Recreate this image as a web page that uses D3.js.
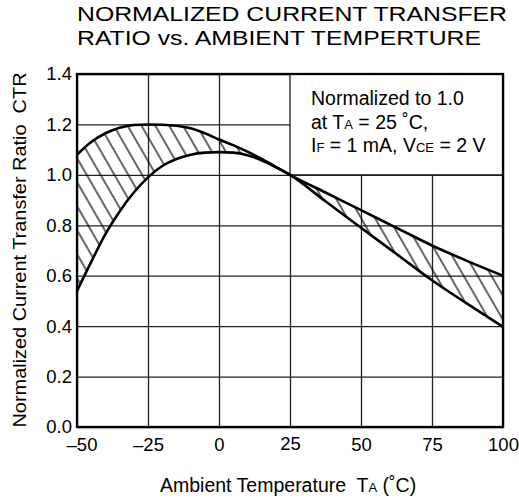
<!DOCTYPE html>
<html>
<head>
<meta charset="utf-8">
<script src="https://cdn.jsdelivr.net/npm/d3@7"></script>
<style>
  body { margin: 0; background: #fff; }
  text { font-family: "Liberation Sans", Arial, sans-serif; fill: #000; white-space: pre; }
</style>
</head>
<body>
<svg id="chart" width="519" height="499"></svg>
<script>
// temperature (deg C) and normalized CTR band (upper / lower limits)
const temps = [-50, -45, -40, -35, -30, -25, -20, -15, -10, -5, 0, 5, 10, 15, 20, 25, 37.5, 50, 62.5, 75, 87.5, 100];
const upperCTR = [1.08, 1.13, 1.165, 1.187, 1.198, 1.2, 1.199, 1.195, 1.185, 1.165, 1.14, 1.118, 1.092, 1.063, 1.032, 1.0, 0.93, 0.86, 0.79, 0.72, 0.658, 0.60];
const lowerCTR = [0.54, 0.655, 0.765, 0.855, 0.93, 0.99, 1.035, 1.063, 1.08, 1.088, 1.09, 1.088, 1.078, 1.058, 1.03, 1.0, 0.895, 0.79, 0.686, 0.582, 0.488, 0.397];

const xTicks = [-50, -25, 0, 25, 50, 75, 100];
const yTicks = [0, 0.2, 0.4, 0.6, 0.8, 1.0, 1.2, 1.4];

const titleLines = ["NORMALIZED CURRENT TRANSFER", "RATIO vs. AMBIENT TEMPERTURE"];
const noteLines = [
  [["Normalized to 1.0", false]],
  [["at T", false], ["A", true], [" = 25 ˚C,", false]],
  [["I", false], ["F", true], [" = 1 mA, V", false], ["CE", true], [" = 2 V", false]]
];

const svg = d3.select("#chart");
const margin = { top: 74, right: 16, bottom: 72, left: 77 };
const width = 519 - margin.left - margin.right;
const height = 499 - margin.top - margin.bottom;

const x = d3.scaleLinear().domain([-50, 100]).range([0, width]);
const y = d3.scaleLinear().domain([0, 1.4]).range([height, 0]);

const chart = svg.append("g")
    .attr("transform", `translate(${margin.left},${margin.top})`);

// hatch pattern
svg.append("defs").append("pattern")
    .attr("id", "hatch")
    .attr("patternUnits", "userSpaceOnUse")
    .attr("width", 12)
    .attr("height", 12)
    .attr("patternTransform", "rotate(-30)")
    .append("line")
    .attr("x1", 6).attr("y1", 0)
    .attr("x2", 6).attr("y2", 12)
    .attr("stroke", "#000")
    .attr("stroke-width", 1.2);

// grid
const gridX = chart.append("g")
    .attr("transform", `translate(0,${height})`)
    .call(d3.axisBottom(x).tickValues(xTicks).tickSize(-height).tickFormat(""));
const gridY = chart.append("g")
    .call(d3.axisLeft(y).tickValues(yTicks).tickSize(-width).tickFormat(""));
[gridX, gridY].forEach(g => {
    g.select(".domain").remove();
    g.selectAll("line").attr("stroke", "#222").attr("stroke-width", 1.3);
});

// note box covers grid in the top right corner
chart.append("rect")
    .attr("x", x(25))
    .attr("y", y(1.4))
    .attr("width", x(100) - x(25))
    .attr("height", y(1.0) - y(1.4))
    .attr("fill", "#fff")
    .attr("stroke", "#222")
    .attr("stroke-width", 1.3);

const band = temps.map((t, i) => ({ t: t, hi: upperCTR[i], lo: lowerCTR[i] }));

chart.append("path")
    .datum(band)
    .attr("fill", "url(#hatch)")
    .attr("d", d3.area()
        .curve(d3.curveMonotoneX)
        .x(d => x(d.t))
        .y0(d => y(d.lo))
        .y1(d => y(d.hi)));

["hi", "lo"].forEach(k => {
    chart.append("path")
        .datum(band)
        .attr("fill", "none")
        .attr("stroke", "#000")
        .attr("stroke-width", 2.6)
        .attr("d", d3.line()
            .curve(d3.curveMonotoneX)
            .x(d => x(d.t))
            .y(d => y(d[k])));
});

// frame
chart.append("rect")
    .attr("width", width)
    .attr("height", height)
    .attr("fill", "none")
    .attr("stroke", "#000")
    .attr("stroke-width", 2.3);

// axes labels
const xAxis = chart.append("g")
    .attr("transform", `translate(0,${height})`)
    .call(d3.axisBottom(x).tickValues(xTicks).tickSize(0).tickPadding(11)
        .tickFormat(d => d < 0 ? "–" + Math.abs(d) : d));
const yAxis = chart.append("g")
    .call(d3.axisLeft(y).tickValues(yTicks).tickSize(0).tickPadding(5)
        .tickFormat(d3.format(".1f")));
[xAxis, yAxis].forEach(g => {
    g.select(".domain").remove();
    g.selectAll("text")
        .style("font-family", "'Liberation Sans', Arial, sans-serif")
        .style("font-size", "18.5px")
        .attr("fill", "#000");
});
xAxis.selectAll("text").filter(d => d === -50).attr("dx", 4.5);
xAxis.selectAll("text").filter(d => d === 25).attr("dy", "0.63em");

// title
svg.selectAll(".title")
    .data(titleLines)
    .enter()
    .append("text")
    .attr("class", "title")
    .attr("x", 77)
    .attr("y", (d, i) => 21 + i * 23.5)
    .attr("textLength", (d, i) => i === 0 ? 430 : 404)
    .attr("lengthAdjust", "spacingAndGlyphs")
    .style("font-size", "20.5px")
    .text(d => d);

// note
noteLines.forEach((parts, i) => {
    const t = chart.append("text")
        .attr("x", x(25) + 21)
        .attr("y", 31 + i * 23.5)
        .style("font-size", "19.5px");
    parts.forEach(p => {
        t.append("tspan")
            .style("font-size", p[1] ? "13px" : "19.5px")
            .text(p[0]);
    });
});

// x axis title
const xt = svg.append("text")
    .attr("x", 160)
    .attr("y", 492)
    .style("font-size", "19.5px");
xt.append("tspan").text("Ambient Temperature  T");
xt.append("tspan").style("font-size", "13px").text("A");
xt.append("tspan").text(" (˚C)");

// y axis title
svg.append("text")
    .attr("transform", "translate(26,250) rotate(-90)")
    .attr("text-anchor", "middle")
    .attr("textLength", 355)
    .attr("lengthAdjust", "spacingAndGlyphs")
    .style("font-size", "18px")
    .text("Normalized Current Transfer Ratio  CTR");
</script>
</body>
</html>
